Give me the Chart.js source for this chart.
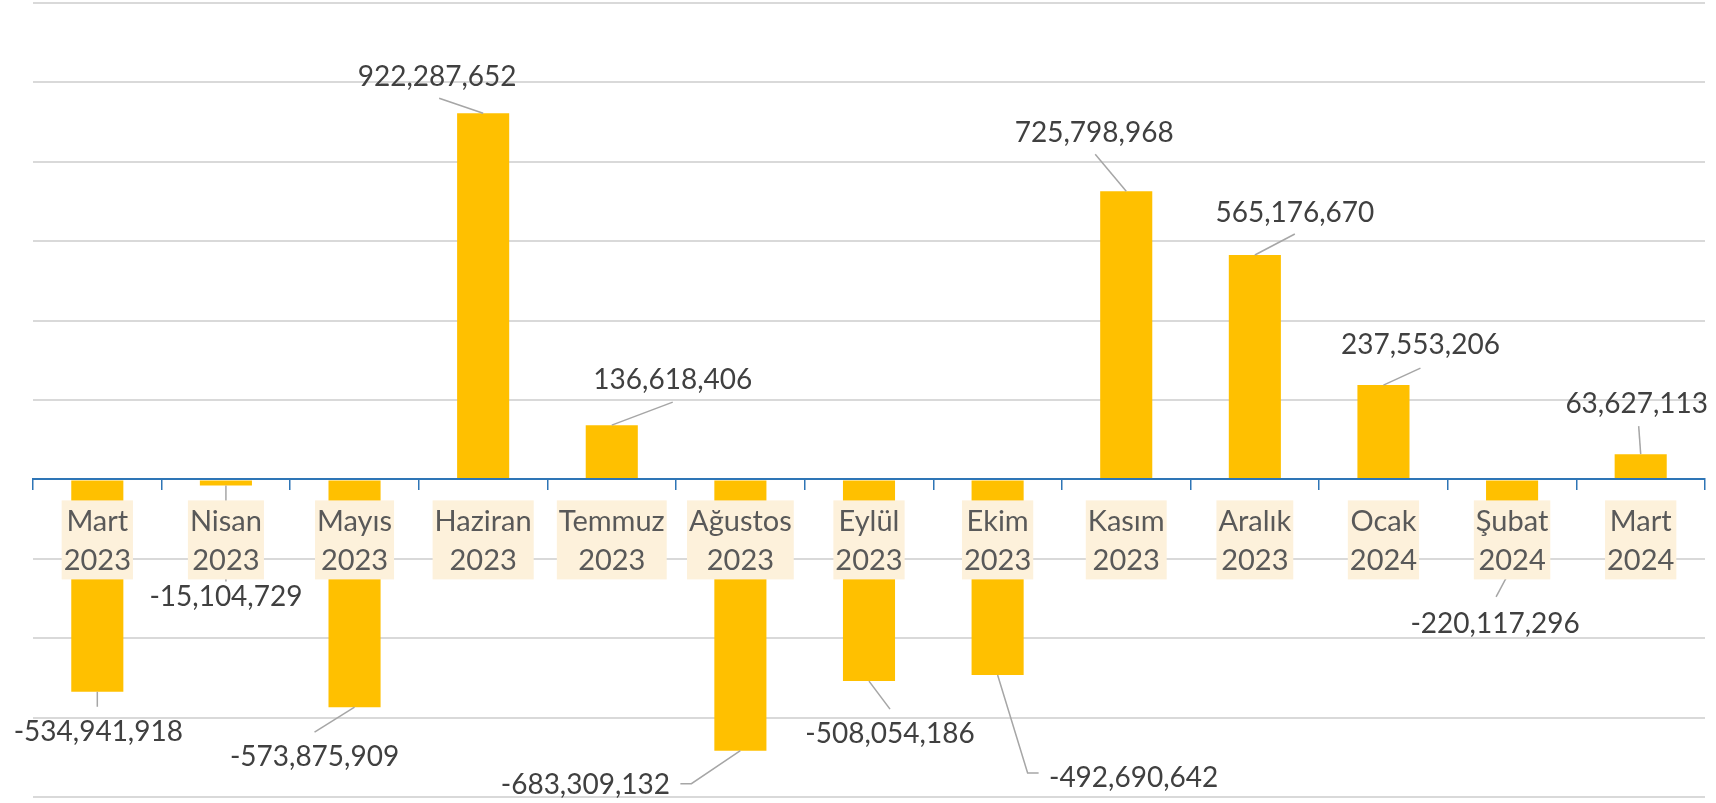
<!DOCTYPE html>
<html>
<head>
<meta charset="utf-8">
<script src="https://cdn.jsdelivr.net/npm/chart.js@4/dist/chart.umd.min.js"></script>
<style>
html,body{margin:0;padding:0;background:#ffffff;}
#wrap{width:1716px;height:803px;position:relative;}
</style>
</head>
<body>
<div id="wrap"><canvas id="c"></canvas></div>
<script>
// ---- data ----
const categories = [
  ["Mart","2023"],["Nisan","2023"],["Mayıs","2023"],["Haziran","2023"],
  ["Temmuz","2023"],["Ağustos","2023"],["Eylül","2023"],["Ekim","2023"],
  ["Kasım","2023"],["Aralık","2023"],["Ocak","2024"],["Şubat","2024"],["Mart","2024"]
];
const values = [
  -534941918, -15104729, -573875909, 922287652, 136618406, -683309132,
  -508054186, -492690642, 725798968, 565176670, 237553206, -220117296, 63627113
];
const yMin = -800000000;
const yMax = 1200000000;
const yStep = 200000000;

// ---- label placement style (pixel offsets from the bar end) ----
const labelStyle = [
  {dx: 1, dy: 40, lead: [[0, 15]]},
  {dx: 0, dy: 112, lead: [[0, 96]]},
  {dx: -40, dy: 50, lead: [[-40, 25]]},
  {dx: -46, dy: -36, lead: [[-44, -15]]},
  {dx: 61, dy: -45, lead: [[61, -23]]},
  {dx: -155, dy: 34, lead: [[-49, 33], [-60, 33]]},
  {dx: 21, dy: 53, lead: [[21, 28]]},
  {dx: 136, dy: 103, lead: [[30, 98], [41, 98]]},
  {dx: -32, dy: -58, lead: [[-31, -37]]},
  {dx: 40, dy: -42, lead: [[40, -21]]},
  {dx: 37, dy: -40, lead: [[37, -17]]},
  {dx: -17, dy: 57, lead: [[-16, 30]]},
  {dx: -4, dy: -50, lead: [[-2, -28]]}
];

const FONT = 'Lato';

const leaderLabels = {
  id: 'leaderLabels',
  afterDatasetsDraw(chart) {
    const ctx = chart.ctx;
    const meta = chart.getDatasetMeta(0);
    ctx.save();
    meta.data.forEach((bar, i) => {
      const s = labelStyle[i];
      const x0 = bar.x, y0 = bar.y;
      ctx.beginPath();
      ctx.strokeStyle = '#A6A6A6';
      ctx.lineWidth = 1.5;
      ctx.moveTo(x0, y0);
      s.lead.forEach(p => ctx.lineTo(x0 + p[0], y0 + p[1]));
      ctx.stroke();
      ctx.fillStyle = '#404040';
      ctx.font = '28px ' + FONT;
      ctx.textAlign = 'center';
      ctx.textBaseline = 'middle';
      ctx.fillText(values[i].toLocaleString('en-US'), x0 + s.dx, y0 + s.dy);
    });
    ctx.restore();
  }
};

// category labels drawn next to the zero line (Excel "next to axis" style)
const axisLabels = {
  id: 'axisLabels',
  afterDraw(chart) {
    const ctx = chart.ctx;
    const xs = chart.scales.x, ys = chart.scales.y;
    const zero = ys.getPixelForValue(0);
    ctx.save();
    ctx.font = '29px ' + FONT;
    ctx.textAlign = 'center';
    ctx.textBaseline = 'alphabetic';
    categories.forEach((lines, i) => {
      const cx = xs.getPixelForValue(i);
      const w = Math.max(...lines.map(t => ctx.measureText(t).width)) + 4;
      ctx.fillStyle = '#FDF1DB';
      ctx.fillRect(cx - w / 2, zero + 21, w, 79);
      ctx.fillStyle = '#595959';
      lines.forEach((t, k) => ctx.fillText(t, cx, zero + 52 + k * 39));
    });
    ctx.restore();
  }
};

new Chart(document.getElementById('c'), {
  type: 'bar',
  data: {
    labels: categories.map(c => c.join(' ')),
    datasets: [{
      data: values,
      backgroundColor: '#FFC000',
      borderWidth: 0,
      barPercentage: 0.405,
      categoryPercentage: 1
    }]
  },
  options: {
    responsive: true,
    maintainAspectRatio: false,
    animation: false,
    devicePixelRatio: 1,
    layout: {padding: {left: 33, right: 11, top: 3, bottom: 6}},
    plugins: {legend: {display: false}, tooltip: {enabled: false}},
    scales: {
      x: {
        position: {y: 0},
        offset: true,
        grid: {offset: true, drawOnChartArea: false, drawTicks: true, tickLength: 10, color: '#2E75B6', lineWidth: 1.5, z: 1},
        border: {display: true, color: '#2E75B6', width: 2, z: 1},
        ticks: {display: false, autoSkip: false}
      },
      y: {
        min: yMin, max: yMax,
        ticks: {stepSize: yStep, display: false},
        grid: {color: '#D9D9D9', lineWidth: 2, drawTicks: false},
        border: {display: false}
      }
    }
  },
  plugins: [leaderLabels, axisLabels]
});
</script>
</body>
</html>
